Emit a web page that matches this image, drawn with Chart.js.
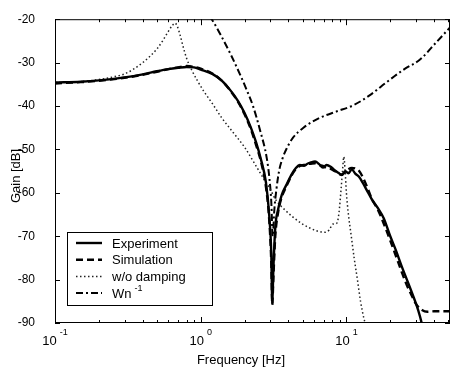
<!DOCTYPE html>
<html>
<head>
<meta charset="utf-8">
<script src="https://cdn.jsdelivr.net/npm/chart.js@4.4.1/dist/chart.umd.min.js"></script>
<style>
  html, body { margin: 0; padding: 0; background: #fff; }
  canvas { display: block; }
</style>
</head>
<body>
<canvas id="gainChart" width="451" height="372"></canvas>
<script>
// frequency [Hz] / gain [dB]
const expFreq = [0.1, 0.15, 0.2, 0.3, 0.4, 0.5, 0.6, 0.7, 0.8, 0.9, 1.0, 1.2, 1.4, 1.6, 1.8, 2.0, 2.2, 2.4, 2.6, 2.8, 2.95, 3.05, 3.1, 3.15, 3.25, 3.4, 3.6, 3.9, 4.2, 4.5, 4.8, 5.1, 5.4, 5.7, 6.1, 6.5, 6.9, 7.3, 7.8, 8.3, 8.8, 9.3, 9.8, 10.3, 10.9, 11.5, 12.2, 13, 14, 15, 16.5, 18, 20, 22, 24, 26, 28, 30, 32, 33];
const expGain = [-34.6, -34.4, -34.1, -33.4, -32.7, -32.0, -31.5, -31.2, -31.0, -31.1, -31.6, -32.6, -34.2, -36.4, -38.8, -41.6, -44.8, -48.4, -52.5, -57.5, -65, -74, -85.5, -78, -68, -63.8, -60.5, -58.0, -55.8, -54.3, -53.6, -53.8, -53.3, -53.0, -52.8, -53.4, -54.2, -53.6, -54.0, -54.8, -55.4, -55.9, -55.0, -55.5, -54.6, -55.6, -56.3, -57.8, -59.8, -61.6, -63.6, -65.8, -70.0, -73.5, -77.0, -80.0, -82.8, -85.5, -88.5, -90.3];

const simFreq = [0.1, 0.15, 0.2, 0.3, 0.4, 0.5, 0.6, 0.7, 0.8, 0.9, 1.0, 1.2, 1.4, 1.6, 1.8, 2.0, 2.2, 2.4, 2.6, 2.8, 2.95, 3.05, 3.1, 3.15, 3.25, 3.4, 3.6, 3.9, 4.2, 4.5, 4.8, 5.1, 5.4, 5.7, 6.1, 6.5, 6.9, 7.3, 7.8, 8.3, 8.8, 9.3, 9.8, 10.3, 10.9, 11.5, 12.2, 13, 14, 15, 16.5, 18, 20, 22, 24, 26, 28, 30, 33, 36, 40, 45, 51];
const simGain = [-34.8, -34.5, -34.2, -33.5, -32.8, -32.1, -31.5, -31.1, -30.8, -31.0, -31.4, -32.5, -34.2, -36.5, -39.0, -41.9, -45.2, -49.0, -53.0, -58.5, -66, -76, -85.8, -80, -70, -64.5, -61.0, -58.3, -56.0, -54.5, -53.8, -53.6, -53.4, -53.3, -53.2, -53.6, -53.8, -54.3, -54.5, -55.0, -55.6, -55.8, -55.2, -54.6, -54.3, -54.4, -54.9, -56.5, -59.0, -61.5, -64.0, -67.0, -71.0, -74.8, -78.3, -81.3, -83.6, -85.6, -87.0, -87.4, -87.3, -87.3, -87.3];

const undampedFreq = [0.1, 0.15, 0.2, 0.25, 0.3, 0.35, 0.4, 0.45, 0.5, 0.55, 0.6, 0.64, 0.667, 0.69, 0.72, 0.76, 0.8, 0.87, 0.95, 1.05, 1.2, 1.4, 1.67, 2.0, 2.3, 2.6, 2.82, 3.0, 3.3, 3.8, 4.3, 5.0, 5.6, 6.3, 7.1, 7.6, 8.1, 8.6, 8.9, 9.2, 9.4, 9.6, 9.8, 10.0, 10.3, 10.8, 11.3, 11.9, 12.5, 13.2, 13.6];
const undampedGain = [-34.6, -34.4, -33.9, -33.3, -32.6, -31.4, -30.0, -28.5, -26.9, -24.9, -22.8, -21.4, -20.9, -21.6, -23.5, -26.5, -29.0, -31.8, -34.2, -36.6, -39.4, -42.8, -46.1, -49.5, -52.8, -55.8, -57.7, -59.2, -61.8, -64.0, -65.6, -67.2, -68.1, -68.8, -69.1, -68.6, -67.2, -67.0, -64.5, -59.0, -55.0, -51.7, -55.0, -60.0, -64.7, -70.0, -75.0, -80.0, -85.0, -89.0, -90.5];

const wnFreq = [1.15, 1.19, 1.36, 1.6, 1.86, 2.05, 2.29, 2.55, 2.84, 2.97, 3.05, 3.12, 3.2, 3.3, 3.45, 3.65, 3.89, 4.3, 5.07, 6.6, 8.5, 11.2, 14.5, 18.9, 25, 32, 41.7, 51.4];
const wnGain = [-19.3, -20.0, -23.4, -28.0, -32.7, -36.0, -40.1, -45.5, -52.0, -57.0, -62.0, -70.0, -64.0, -59.5, -55.0, -52.0, -49.8, -47.3, -45.0, -42.7, -41.3, -39.8, -37.5, -34.5, -31.5, -29.3, -25.2, -21.9];

const seriesNames = ['Experiment', 'Simulation', 'w/o damping', 'Wn'];
const yTicks = [-90, -80, -70, -60, -50, -40, -30, -20];
const xDecades = [0.1, 1, 10];
const xExponents = ['-1', '0', '1'];

const toPoints = (xs, ys) => xs.map((x, i) => ({ x: x, y: ys[i] }));

const FONT = 'Liberation Sans, Arial, Helvetica, sans-serif';

const chartElem = document.getElementById('gainChart').getContext('2d');

// frame, inward ticks, axis labels and legend drawn over the plot
const decorPlugin = {
  id: 'decor',
  afterDraw(chart) {
    const { ctx, chartArea: a, scales } = chart;
    const xs = scales.x, ys = scales.y;
    ctx.save();
    ctx.strokeStyle = '#000';
    ctx.lineWidth = 1;
    ctx.strokeRect(a.left + 0.5, a.top + 0.5, a.right - a.left - 1, a.bottom - a.top - 1);

    ctx.beginPath();
    xDecades.forEach(d => {
      for (let k = 1; k <= 9; k++) {
        const v = d * k;
        if (v < xs.min || v > xs.max) continue;
        const px = Math.round(xs.getPixelForValue(v)) + 0.5;
        const len = k === 1 ? 6 : 3;
        ctx.moveTo(px, a.bottom); ctx.lineTo(px, a.bottom - len);
        ctx.moveTo(px, a.top); ctx.lineTo(px, a.top + len);
      }
    });
    yTicks.forEach(v => {
      const py = Math.round(ys.getPixelForValue(v)) + 0.5;
      ctx.moveTo(a.left, py); ctx.lineTo(a.left + 5, py);
      ctx.moveTo(a.right, py); ctx.lineTo(a.right - 5, py);
    });
    ctx.stroke();

    // x tick labels 10^n
    ctx.fillStyle = '#000';
    ctx.textBaseline = 'alphabetic';
    xDecades.forEach((d, i) => {
      const px = xs.getPixelForValue(d);
      ctx.font = '13px ' + FONT;
      const wb = ctx.measureText('10').width;
      ctx.font = '9px ' + FONT;
      const we = ctx.measureText(xExponents[i]).width;
      const x0 = px - (wb + 3 + we) / 2;
      ctx.font = '13px ' + FONT;
      ctx.textAlign = 'left';
      ctx.fillText('10', x0, 345);
      ctx.font = '9px ' + FONT;
      ctx.fillText(xExponents[i], x0 + wb + 3, 335);
    });

    // axis titles
    ctx.font = '13px ' + FONT;
    ctx.textAlign = 'center';
    ctx.fillText('Frequency [Hz]', 241, 364);
    ctx.save();
    ctx.translate(20, 176);
    ctx.rotate(-Math.PI / 2);
    ctx.fillText('Gain [dB]', 0, 0);
    ctx.restore();

    // legend
    const lx = 67, ly = 232, lw = 145, lh = 73;
    ctx.fillStyle = '#fff';
    ctx.fillRect(lx, ly, lw, lh);
    ctx.strokeStyle = '#000';
    ctx.lineWidth = 1;
    ctx.strokeRect(lx + 0.5, ly + 0.5, lw, lh);
    chart.data.datasets.forEach((ds, i) => {
      const yy = 243 + i * 16.7;
      ctx.save();
      ctx.strokeStyle = ds.borderColor;
      ctx.lineWidth = ds.borderWidth;
      ctx.setLineDash(ds.borderDash || []);
      ctx.beginPath();
      ctx.moveTo(76, yy); ctx.lineTo(102, yy);
      ctx.stroke();
      ctx.restore();
      ctx.fillStyle = '#000';
      ctx.textAlign = 'left';
      ctx.textBaseline = 'middle';
      ctx.font = '13px ' + FONT;
      ctx.fillText(ds.label, 112, yy + 1);
      if (ds.label === 'Wn') {
        const w = ctx.measureText('Wn').width;
        ctx.font = '9px ' + FONT;
        ctx.fillText('-1', 112 + w + 3, yy - 5);
      }
    });
    ctx.restore();
  }
};

const gainChart = new Chart(chartElem, {
  type: 'line',
  data: {
    datasets: [
      {
        label: seriesNames[0],
        data: toPoints(expFreq, expGain),
        borderColor: '#000',
        borderWidth: 2.4,
        borderDash: [],
      },
      {
        label: seriesNames[1],
        data: toPoints(simFreq, simGain),
        borderColor: '#000',
        borderWidth: 2.4,
        borderDash: [7, 4],
      },
      {
        label: seriesNames[2],
        data: toPoints(undampedFreq, undampedGain),
        borderColor: '#222',
        borderWidth: 1.5,
        borderDash: [1.5, 2.5],
      },
      {
        label: seriesNames[3],
        data: toPoints(wnFreq, wnGain),
        borderColor: '#000',
        borderWidth: 2,
        borderDash: [7, 3, 2, 3],
      }
    ]
  },
  options: {
    responsive: false,
    animation: false,
    layout: { padding: { top: 10, right: 1, left: 0, bottom: 0 } },
    elements: {
      point: { radius: 0 },
      line: { tension: 0, cubicInterpolationMode: 'monotone', fill: false }
    },
    plugins: {
      legend: { display: false },
      title: { display: false },
      tooltip: { enabled: false }
    },
    scales: {
      x: {
        type: 'logarithmic',
        min: 0.1,
        max: 51.4,
        grid: { display: false },
        border: { display: false },
        ticks: { display: false },
        afterFit: s => { s.height = 49; }
      },
      y: {
        min: -90,
        max: -20,
        grid: { display: false },
        border: { display: false },
        ticks: {
          stepSize: 10,
          padding: 12,
          color: '#000',
          font: { family: FONT, size: 12 }
        },
        afterFit: s => { s.width = 55; }
      }
    }
  },
  plugins: [decorPlugin]
});
</script>
</body>
</html>
